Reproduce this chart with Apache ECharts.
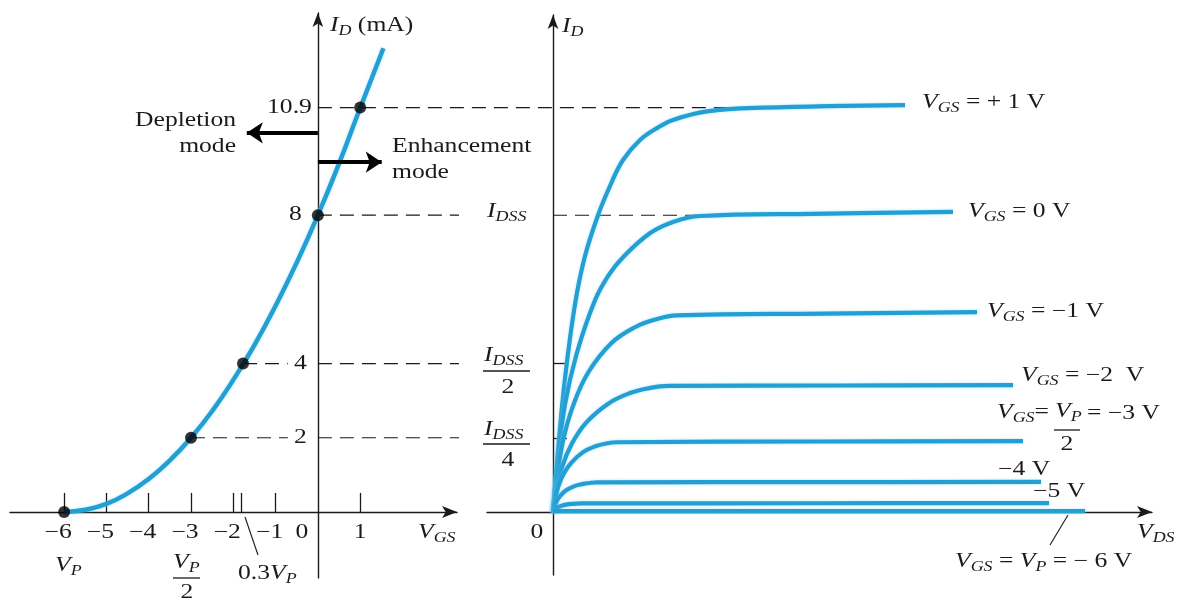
<!DOCTYPE html>
<html><head><meta charset="utf-8">
<script src="https://cdn.jsdelivr.net/npm/echarts@6/dist/echarts.min.js"></script>
<style>html,body{margin:0;padding:0;background:#fff}#c{width:1182px;height:599px}</style>
</head><body><div id="c"></div>
<script>
// ---------------- data ----------------
// Transfer characteristic (left): V_GS (V) vs I_D (mA)
const transferVGS = [-6, -5.5, -5, -4.5, -4, -3.5, -3, -2.5, -2, -1.5, -1, -0.5, 0, 0.5, 1, 1.55];
const transferID  = [0, 0.06, 0.22, 0.5, 0.89, 1.39, 2, 2.72, 3.56, 4.5, 5.56, 6.72, 8, 9.39, 10.89, 12.5];
// Marked points on the transfer curve
const keyPointVGS = [-6, -3, -1.77, 0, 1];
const keyPointID  = [0, 2, 4, 8, 10.9];
// Axis ticks / labels
const vgsTickValues  = [-6, -5, -4, -3, -2, -1.8, -1, 1];
const vgsLabelValues = [-6, -5, -4, -3, -2, -1, 0, 1];
const idLabelValues  = [2, 4, 8, 10.9];
const drainTickValues = [2, 4];
// Drain characteristics (right): V_DS (arb. units) vs I_D (mA), one pair per V_GS
const vdsP1 = [0, 0.12, 0.3, 0.55, 0.8, 1.125, 1.45, 1.75, 2.175, 2.6, 3.0, 3.85, 5.25, 8.8];
const idP1  = [0, 1.6, 3.6, 5.6, 6.9, 8.0, 8.85, 9.49, 10.03, 10.35, 10.57, 10.8, 10.9, 10.97];
const vds0  = [0, 0.1, 0.3, 0.6, 1.05, 1.4, 1.75, 2.43, 3.0, 3.68, 6.5, 10.0];
const id0   = [0, 1.2, 2.9, 4.3, 5.71, 6.4, 6.87, 7.52, 7.82, 7.98, 8.04, 8.09];
const vdsM1 = [0, 0.084, 0.25, 0.5, 0.88, 1.47, 2.05, 2.53, 3.1, 6.8, 10.6];
const idM1  = [0, 0.8, 1.91, 2.86, 3.76, 4.56, 4.98, 5.18, 5.3, 5.35, 5.39];
const vdsM2 = [0, 0.078, 0.23, 0.47, 0.83, 1.38, 1.91, 2.36, 2.9, 7.2, 11.5];
const idM2  = [0, 0.51, 1.22, 1.84, 2.41, 2.92, 3.2, 3.33, 3.4, 3.41, 3.42];
const vdsM3 = [0, 0.043, 0.13, 0.26, 0.46, 0.76, 1.06, 1.3, 1.6, 6.7, 11.75];
const idM3  = [0, 0.28, 0.68, 1.02, 1.33, 1.62, 1.77, 1.84, 1.88, 1.9, 1.91];
const vdsM4 = [0, 0.03, 0.09, 0.18, 0.31, 0.52, 0.73, 0.9, 1.1, 6.6, 12.2];
const idM4  = [0, 0.12, 0.29, 0.43, 0.57, 0.69, 0.75, 0.78, 0.8, 0.805, 0.81];
const vdsM5 = [0, 0.02, 0.06, 0.11, 0.2, 0.33, 0.46, 0.7, 6.5, 12.4];
const idM5  = [0, 0.035, 0.083, 0.124, 0.163, 0.198, 0.216, 0.23, 0.235, 0.24];
const vdsM6 = [0, 13.3];
const idM6  = [0.02, 0.02];
// Projection (dashed) lines: [x-start, x-end, level]
const dash109 = [0, 5.25, 10.9];       // starts on left V_GS=0 axis, ends in right plot (V_DS units)
const dash8L  = [0, 3.64, 8];
const dash8R  = [0, 4.1, 8];           // right grid units
const dash4a  = [-1.77, -0.71, 4];
const dash4b  = [0, 3.47, 4];
const dash2a  = [-3, -0.71, 2];
const dash2b  = [0, 3.47, 2];
// Mode arrows: [level, x-end]
const depletionArrow   = [10.22, -1.68];
const enhancementArrow = [9.43, 1.51];

// ---------------- helpers ----------------
const zip = (a, b) => a.map((v, i) => [v, b[i]]);
const seg = s => [[s[0], s[2]], [s[1], s[2]]];
const FONT = '"Liberation Serif", "Times New Roman", serif';
const INK = '#1a1a1a';
const BLUE = '#249fd4';
const SX = 1.28;

const RICH = {
  i: {fontFamily: FONT, fontStyle: 'italic', fontSize: 20, fill: INK},
  s: {fontFamily: FONT, fontStyle: 'italic', fontSize: 14, fill: INK, padding: [11, 0, 0, 0]},
  r: {fontFamily: FONT, fontSize: 20, fill: INK}
};
function T(x, y, text, align) {
  return {type: 'text', x: x, y: y, scaleX: SX, z: 20, silent: true,
    style: {text: text, rich: RICH, fill: INK, fontFamily: FONT, fontSize: 20,
      align: align || 'left', textAlign: align || 'left',
      verticalAlign: 'middle', textVerticalAlign: 'middle'}};
}
function L(x1, y1, x2, y2, w, dash) {
  return {type: 'line', z: 20, silent: true, shape: {x1, y1, x2, y2},
    style: {stroke: INK, lineWidth: w || 1.2, lineDash: dash || null}};
}

function curve(vds, id) {
  return {type: 'line', xAxisIndex: 1, yAxisIndex: 1, data: zip(vds, id),
    smooth: 0.4, symbol: 'none', silent: true, z: 4,
    lineStyle: {color: BLUE, width: 4.2, shadowColor: 'rgba(120,210,245,0.6)', shadowBlur: 3}};
}
function dashed(s, gi) {
  return {type: 'line', xAxisIndex: gi, yAxisIndex: gi, data: seg(s), symbol: 'none',
    silent: true, z: 2,
    lineStyle: {color: INK, width: 1.2, type: [14, 8]}};
}

const axisLineStyle = {color: INK, width: 1.4};

const staticGraphics = [
  // left axis titles
  T(330, 26, '{i|I}{s|D}{r| (mA)}'),
  T(418, 533, '{i|V}{s|GS}'),
  T(55, 566, '{i|V}{s|P}'),
  T(173, 563, '{i|V}{s|P}'),
  L(173, 578, 200, 578, 1.3),
  T(187, 593, '{r|2}', 'center'),
  T(238, 574, '{r|0.3}{i|V}{s|P}'),
  L(245, 517, 258, 555, 1.1),
  // mode annotations
  T(236, 121, '{r|Depletion}', 'right'),
  T(236, 147, '{r|mode}', 'right'),
  T(392, 147, '{r|Enhancement}'),
  T(392, 173, '{r|mode}'),
  // I_DSS labels
  T(487, 212, '{i|I}{s|DSS}'),
  T(484, 356, '{i|I}{s|DSS}'),
  L(483, 371, 530, 371, 1.3),
  T(508, 388, '{r|2}', 'center'),
  T(484, 430, '{i|I}{s|DSS}'),
  L(483, 444, 530, 444, 1.3),
  T(508, 461, '{r|4}', 'center'),
  // right plot
  T(562, 27, '{i|I}{s|D}'),
  T(922, 103, '{i|V}{s|GS}{r| = + 1 V}'),
  T(968, 212, '{i|V}{s|GS}{r| = 0 V}'),
  T(987, 312, '{i|V}{s|GS}{r| = \u22121 V}'),
  T(1021, 376, '{i|V}{s|GS}{r| = \u22122  V}'),
  T(997, 413, '{i|V}{s|GS}{r|=}'),
  T(1055, 412, '{i|V}{s|P}'),
  L(1054, 430, 1080, 430, 1.3),
  T(1067, 445, '{r|2}', 'center'),
  T(1087, 414, '{r|= \u22123 V}'),
  T(998, 470, '{r|\u22124 V}'),
  T(1033, 492, '{r|\u22125 V}'),
  T(955, 562, '{i|V}{s|GS}{r| = }{i|V}{s|P}{r| = \u2212 6 V}'),
  L(1068, 515, 1050, 545, 1.1),
  T(1137, 533, '{i|V}{s|DS}')
];

const option = {
  backgroundColor: '#ffffff',
  animation: false,
  grid: [
    {left: 10, top: 13, width: 447, height: 565, containLabel: false, outerBoundsMode: 'none'},
    {left: 487, top: 15, width: 665, height: 560, containLabel: false, outerBoundsMode: 'none'}
  ],
  xAxis: [
    {type: 'value', gridIndex: 0, min: -7.28, max: 3.29,
      axisLine: {onZero: true, lineStyle: axisLineStyle, symbol: ['none', 'arrow'], symbolSize: [9, 15]},
      axisTick: {show: true, customValues: vgsTickValues, inside: true, length: 19, lineStyle: {color: INK, width: 1.3}},
      axisLabel: {show: false}, splitLine: {show: false}},
    {type: 'value', gridIndex: 1, min: -1.65, max: 14.975,
      axisLine: {onZero: true, lineStyle: axisLineStyle, symbol: ['none', 'arrow'], symbolSize: [9, 15]},
      axisTick: {show: false}, axisLabel: {show: false}, splitLine: {show: false}}
  ],
  yAxis: [
    {type: 'value', gridIndex: 0, min: -1.78, max: 13.45,
      axisLine: {onZero: true, lineStyle: axisLineStyle, symbol: ['none', 'arrow'], symbolSize: [8, 14]},
      axisTick: {show: false}, axisLabel: {show: false}, splitLine: {show: false}},
    {type: 'value', gridIndex: 1, min: -1.70, max: 13.40,
      axisLine: {onZero: true, lineStyle: axisLineStyle, symbol: ['none', 'arrow'], symbolSize: [8, 14]},
      axisTick: {show: true, customValues: drainTickValues, inside: true, length: 14, lineStyle: {color: INK, width: 1.3}},
      axisLabel: {show: false}, splitLine: {show: false}}
  ],
  series: [
    dashed(dash8L, 0), dashed(dash4a, 0), dashed(dash4b, 0),
    dashed(dash2a, 0), dashed(dash2b, 0), dashed(dash8R, 1),
    {type: 'line', xAxisIndex: 0, yAxisIndex: 0, data: zip(transferVGS, transferID),
      smooth: true, symbol: 'none', silent: true, z: 4,
      lineStyle: {color: BLUE, width: 4.5, shadowColor: 'rgba(120,210,245,0.6)', shadowBlur: 3}},
    {type: 'scatter', xAxisIndex: 0, yAxisIndex: 0, data: zip(keyPointVGS, keyPointID),
      symbol: 'circle', symbolSize: 12, itemStyle: {color: '#000'}, silent: true, z: 6,
      markLine: {silent: true, symbol: ['none', 'arrow'], symbolSize: 16, label: {show: false},
        lineStyle: {color: '#000', width: 4, type: 'solid'}, emphasis: {disabled: true},
        data: [
          [{coord: [0, depletionArrow[0]]}, {coord: [depletionArrow[1], depletionArrow[0]]}],
          [{coord: [0, enhancementArrow[0]]}, {coord: [enhancementArrow[1], enhancementArrow[0]]}]
        ]}},
    curve(vdsP1, idP1), curve(vds0, id0), curve(vdsM1, idM1), curve(vdsM2, idM2),
    curve(vdsM3, idM3), curve(vdsM4, idM4), curve(vdsM5, idM5), curve(vdsM6, idM6)
  ]
};
const chart = echarts.init(document.getElementById('c'), null, {renderer: 'canvas'});
chart.setOption(option);

// tick labels and the long projection line, placed through the axes' scales
const dyn = [];
vgsLabelValues.forEach(v => {
  const p = chart.convertToPixel({gridIndex: 0}, [v, 0]);
  const dx = v === 0 ? -16 : (v < 0 ? -6 : 0);
  const txt = v < 0 ? '\u2212' + (-v) : String(v);
  dyn.push(T(p[0] + dx, p[1] + 21, '{r|' + txt + '}', 'center'));
});
idLabelValues.forEach(v => {
  const p = chart.convertToPixel({gridIndex: 0}, [0, v]);
  const dx = v === 10.9 ? -6 : (v === 8 ? -16 : -11);
  dyn.push(T(p[0] + dx, p[1], '{r|' + v + '}', 'right'));
});
const o1 = chart.convertToPixel({gridIndex: 1}, [0, 0]);
dyn.push(T(o1[0] - 16, o1[1] + 21, '{r|0}', 'center'));
const a = chart.convertToPixel({gridIndex: 0}, [dash109[0], dash109[2]]);
const b = chart.convertToPixel({gridIndex: 1}, [dash109[1], dash109[2]]);
dyn.push(Object.assign(L(a[0], a[1], b[0], b[1], 1.2, [14, 8]), {z: 1}));

chart.setOption({graphic: staticGraphics.concat(dyn)});
</script>
</body></html>
